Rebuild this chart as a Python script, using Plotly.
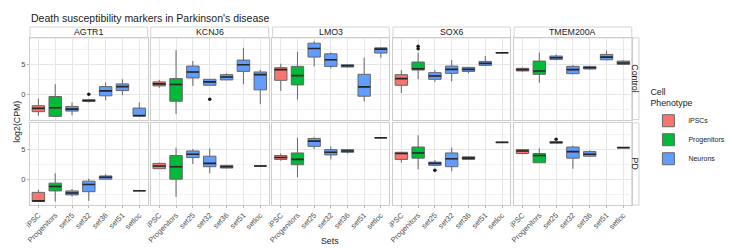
import plotly.graph_objects as go
from plotly.subplots import make_subplots

SETS = ["iPSC", "Progenitors", "set25", "set32", "set36", "set51", "setloc"]
GENES = ["AGTR1", "KCNJ6", "LMO3", "SOX6", "TMEM200A"]
CONDITIONS = ["Control", "PD"]
PHENOTYPES = ["iPSCs", "Progenitors", "Neurons"]
PHENO_COLORS = ["#F8766D", "#00BA38", "#619CFF"]

# (set, lower whisker, q1, median, q3, upper whisker)  -- log2(CPM)
AGTR1_CONTROL = [
    ("iPSC", -3.6, -2.93, -2.38, -1.93, -0.72),
    ("Progenitors", -3.72, -3.72, -2.27, -0.38, 1.67),
    ("set25", -3.55, -2.83, -2.5, -2.05, -1.38),
    ("set32", -1.38, -1.22, -1.05, -0.94, -0.8),
    ("set36", -1.0, -0.27, 0.56, 1.28, 1.95),
    ("set51", -0.17, 0.61, 1.28, 1.73, 2.5),
    ("setloc", -3.66, -3.66, -3.6, -2.33, -1.38),
]
KCNJ6_CONTROL = [
    ("iPSC", 1.07, 1.4, 1.73, 2.07, 2.4),
    ("Progenitors", -3.33, -1.17, 1.62, 2.62, 7.4),
    ("set25", 1.4, 2.73, 3.73, 4.72, 5.56),
    ("set32", 1.5, 1.5, 2.07, 2.5, 2.5),
    ("set36", 2.4, 2.4, 2.9, 3.28, 3.5),
    ("set51", 1.67, 3.83, 4.95, 5.72, 7.78),
    ("setloc", -1.67, 0.73, 3.28, 3.73, 4.06),
]
LMO3_CONTROL = [
    ("iPSC", 0.56, 2.33, 4.12, 4.45, 5.12),
    ("Progenitors", -0.88, 1.56, 3.12, 4.67, 7.12),
    ("set25", 4.67, 6.23, 7.67, 8.56, 8.9),
    ("set32", 4.34, 4.67, 5.78, 6.78, 7.0),
    ("set36", 4.5, 4.56, 4.78, 4.95, 5.0),
    ("set51", -1.22, -0.33, 1.23, 3.34, 6.12),
    ("setloc", 6.12, 6.9, 7.56, 7.78, 7.78),
]
SOX6_CONTROL = [
    ("iPSC", 0.17, 1.5, 2.62, 3.28, 4.06),
    ("Progenitors", 2.5, 4.06, 4.28, 5.4, 6.95),
    ("set25", 2.07, 2.5, 3.06, 3.62, 4.06),
    ("set32", 2.17, 3.5, 4.17, 4.72, 5.73),
    ("set36", 3.5, 3.83, 4.17, 4.5, 4.5),
    ("set51", 4.73, 4.84, 5.17, 5.5, 6.4),
    ("setloc", 6.95, 6.95, 6.95, 6.95, 6.95),
]
TMEM200A_CONTROL = [
    ("iPSC", 3.8, 3.9, 4.12, 4.34, 4.45),
    ("Progenitors", 1.9, 3.34, 3.9, 5.56, 7.0),
    ("set25", 5.67, 5.84, 6.12, 6.4, 6.67),
    ("set32", 3.34, 3.45, 4.12, 4.67, 4.9),
    ("set36", 4.1, 4.23, 4.45, 4.67, 4.78),
    ("set51", 5.67, 5.78, 6.23, 6.67, 7.34),
    ("setloc", 4.9, 5.0, 5.23, 5.56, 5.67),
]
AGTR1_PD = [
    ("iPSC", -3.67, -3.67, -3.56, -2.14, -1.69),
    ("Progenitors", -3.67, -1.9, -1.15, -0.6, 1.05),
    ("set25", -2.8, -2.57, -2.24, -1.9, -1.58),
    ("set32", -3.56, -2.03, -0.82, -0.27, 0.16),
    ("set36", 0.0, 0.06, 0.39, 0.6, 0.88),
    ("setloc", -1.86, -1.86, -1.86, -1.86, -1.86),
]
KCNJ6_PD = [
    ("iPSC", 1.81, 1.81, 2.25, 2.7, 2.8),
    ("Progenitors", -2.9, 0.06, 2.14, 4.0, 5.32),
    ("set25", 2.58, 3.68, 4.22, 4.77, 5.1),
    ("set32", 1.05, 2.14, 2.7, 3.9, 5.2),
    ("set36", 1.9, 1.92, 2.14, 2.37, 2.4),
    ("setloc", 2.25, 2.25, 2.25, 2.25, 2.25),
]
LMO3_PD = [
    ("iPSC", 3.13, 3.36, 3.68, 4.0, 4.34),
    ("Progenitors", 0.39, 2.47, 3.36, 4.44, 6.97),
    ("set25", 5.1, 5.54, 6.41, 6.86, 7.07),
    ("set32", 3.36, 4.11, 4.55, 5.0, 5.54),
    ("set36", 4.34, 4.55, 4.77, 5.0, 5.1),
    ("setloc", 6.97, 6.97, 6.97, 6.97, 6.97),
]
SOX6_PD = [
    ("iPSC", 2.8, 3.36, 4.34, 4.55, 4.55),
    ("Progenitors", 1.7, 3.57, 4.44, 5.43, 7.4),
    ("set25", 2.37, 2.37, 2.7, 2.91, 3.24),
    ("set32", 1.37, 2.14, 3.46, 4.44, 5.32),
    ("set36", 3.36, 3.36, 3.57, 3.79, 3.79),
    ("setloc", 6.2, 6.2, 6.2, 6.2, 6.2),
]
TMEM200A_PD = [
    ("iPSC", 4.22, 4.34, 4.77, 5.0, 5.0),
    ("Progenitors", 2.8, 2.8, 4.0, 4.34, 5.21),
    ("set25", 6.08, 6.08, 6.2, 6.3, 6.3),
    ("set32", 1.81, 3.57, 4.66, 5.43, 5.65),
    ("set36", 3.9, 3.9, 4.22, 4.66, 4.88),
    ("setloc", 5.32, 5.32, 5.32, 5.32, 5.32),
]
# (gene, condition, set, value)
OUTLIERS = [
    ("AGTR1", "Control", "set32", 0.0),
    ("KCNJ6", "Control", "set32", -0.83),
    ("SOX6", "Control", "Progenitors", 7.62),
    ("SOX6", "Control", "Progenitors", 8.06),
    ("SOX6", "PD", "set25", 1.54),
    ("TMEM200A", "PD", "set25", 6.74),
]

PANELS = {
    ("AGTR1", "Control"): AGTR1_CONTROL, ("KCNJ6", "Control"): KCNJ6_CONTROL,
    ("LMO3", "Control"): LMO3_CONTROL, ("SOX6", "Control"): SOX6_CONTROL,
    ("TMEM200A", "Control"): TMEM200A_CONTROL,
    ("AGTR1", "PD"): AGTR1_PD, ("KCNJ6", "PD"): KCNJ6_PD, ("LMO3", "PD"): LMO3_PD,
    ("SOX6", "PD"): SOX6_PD, ("TMEM200A", "PD"): TMEM200A_PD,
}


def phenotype(s):
    if s == "iPSC":
        return "iPSCs"
    if s == "Progenitors":
        return "Progenitors"
    return "Neurons"


FONT = "Liberation Sans, Arial, sans-serif"
W, H = 734, 248
ML, MR, MT, MB = 22, 65, 19, 49
PW = W - ML - MR
PH = H - MT - MB

# panel pixel extents (relative to plot area left)
col_px = [(0, 125), (128.3, 253.6), (257.6, 381.6), (385.6, 510.4), (514.3, 639.3)]
col_dom = [(a / PW, b / PW) for a, b in col_px]
row_px = [(11, 93.6), (97, 180)]
row_dom = [(1 - b / PH, 1 - a / PH) for a, b in row_px]

fig = make_subplots(rows=2, cols=5, shared_yaxes=False)

legend_done = set()
for ri, cond in enumerate(CONDITIONS):
    for ci, gene in enumerate(GENES):
        rows = PANELS[(gene, cond)]
        for pi, ph in enumerate(PHENOTYPES):
            sel = [r for r in rows if phenotype(r[0]) == ph]
            if not sel:
                continue
            show = ph not in legend_done
            legend_done.add(ph)
            fig.add_trace(go.Box(
                x=[r[0] for r in sel],
                lowerfence=[r[1] for r in sel], q1=[r[2] for r in sel],
                median=[r[3] for r in sel], q3=[r[4] for r in sel],
                upperfence=[r[5] for r in sel],
                name=ph, legendgroup=ph, showlegend=show,
                fillcolor=PHENO_COLORS[pi], boxpoints=False,
                line=dict(color="#666666", width=1), width=0.74,
                whiskerwidth=0, hoverinfo="skip",
            ), row=ri + 1, col=ci + 1)
        # median overlay (thicker dark line)
        fig.add_trace(go.Box(
            x=[r[0] for r in rows],
            lowerfence=[r[3] for r in rows], q1=[r[3] for r in rows],
            median=[r[3] for r in rows], q3=[r[3] for r in rows],
            upperfence=[r[3] for r in rows],
            showlegend=False, fillcolor="rgba(0,0,0,0)", boxpoints=False,
            line=dict(color="#262626", width=1.6), width=0.74,
            whiskerwidth=0, hoverinfo="skip",
        ), row=ri + 1, col=ci + 1)
        outs = [o for o in OUTLIERS if o[0] == gene and o[1] == cond]
        if outs:
            fig.add_trace(go.Scatter(
                x=[o[2] for o in outs], y=[o[3] for o in outs], mode="markers",
                marker=dict(color="#1a1a1a", size=3.5), showlegend=False,
                hoverinfo="skip",
            ), row=ri + 1, col=ci + 1)

YR = [-4.25, 9.45]
for ri in range(2):
    for ci in range(5):
        fig.update_xaxes(
            domain=col_dom[ci], type="category", categoryorder="array",
            categoryarray=SETS, range=[-0.5, 6.5],
            showgrid=True, gridcolor="#e6e6e6", gridwidth=1,
            showline=True, mirror=True, linecolor="#cccccc", linewidth=1,
            ticks="outside" if ri == 1 else "", ticklen=2, tickcolor="#b3b3b3",
            showticklabels=(ri == 1), tickangle=-45,
            tickfont=dict(family=FONT, size=7.5, color="#4d4d4d"),
            zeroline=False, row=ri + 1, col=ci + 1,
        )
        fig.update_yaxes(
            domain=row_dom[ri], range=YR, dtick=5, tick0=0,
            showgrid=True, gridcolor="#e6e6e6", gridwidth=1,
            minor=dict(dtick=2.5, tick0=0, showgrid=True, gridcolor="#f2f2f2", gridwidth=0.6),
            showline=True, mirror=True, linecolor="#cccccc", linewidth=1,
            ticks="outside" if ci == 0 else "", ticklen=2, tickcolor="#b3b3b3",
            showticklabels=(ci == 0),
            tickfont=dict(family=FONT, size=7.5, color="#4d4d4d"),
            zeroline=False, row=ri + 1, col=ci + 1,
        )

shapes = []
annotations = []
strip_bottom = 1 - 11 / PH
for ci, gene in enumerate(GENES):
    x0, x1 = col_dom[ci]
    shapes.append(dict(type="rect", xref="paper", yref="paper", x0=x0, x1=x1,
                       y0=strip_bottom, y1=1.0, fillcolor="white",
                       line=dict(color="#d4d4d4", width=1), layer="below"))
    annotations.append(dict(text=gene, xref="paper", yref="paper", x=(x0 + x1) / 2,
                            y=(strip_bottom + 1) / 2, showarrow=False,
                            font=dict(family=FONT, size=8.8, color="#1a1a1a"),
                            xanchor="center", yanchor="middle"))
rx0 = col_dom[4][1]
for ri, cond in enumerate(CONDITIONS):
    y0, y1 = row_dom[ri]
    shapes.append(dict(type="rect", xref="paper", yref="paper", x0=rx0, x1=1.0,
                       y0=y0, y1=y1, fillcolor="white",
                       line=dict(color="#d4d4d4", width=1), layer="below"))
    annotations.append(dict(text=cond, xref="paper", yref="paper", x=(rx0 + 1) / 2,
                            y=(y0 + y1) / 2, showarrow=False, textangle=90,
                            font=dict(family=FONT, size=8.8, color="#1a1a1a"),
                            xanchor="center", yanchor="middle"))

annotations.append(dict(text="Sets", xref="paper", yref="paper",
                        x=(341 - ML) / PW, y=-(235 - (H - MB)) / PH, showarrow=False,
                        font=dict(family=FONT, size=8.8, color="#1a1a1a"),
                        xanchor="center", yanchor="middle"))
annotations.append(dict(text="log2(CPM)", xref="paper", yref="paper",
                        x=(8 - ML) / PW, y=1 - (115 - MT) / PH, showarrow=False,
                        textangle=-90,
                        font=dict(family=FONT, size=8.8, color="#1a1a1a"),
                        xanchor="center", yanchor="middle"))
annotations.append(dict(text="Death susceptibility markers in Parkinson's disease",
                        xref="paper", yref="paper", x=-1 / PW, y=1 + (MT - 10) / PH,
                        xanchor="left", yanchor="middle", showarrow=False,
                        font=dict(family=FONT, size=10.5, color="#1a1a1a")))

fig.update_layout(
    width=W, height=H,
    margin=dict(l=ML, r=MR, t=MT, b=MB),
    paper_bgcolor="white", plot_bgcolor="white",
    shapes=shapes, annotations=annotations,
    showlegend=True,
    legend=dict(title=dict(text="Cell<br>Phenotype",
                           font=dict(family=FONT, size=8.8, color="#1a1a1a")),
                font=dict(family=FONT, size=7, color="#1a1a1a"),
                x=(679 - ML) / PW, xanchor="left", y=1 - (76 - MT) / PH, yanchor="top",
                bgcolor="rgba(0,0,0,0)", tracegroupgap=0, itemwidth=30),
    boxmode="overlay",
)

fig.write_html("out.html")
